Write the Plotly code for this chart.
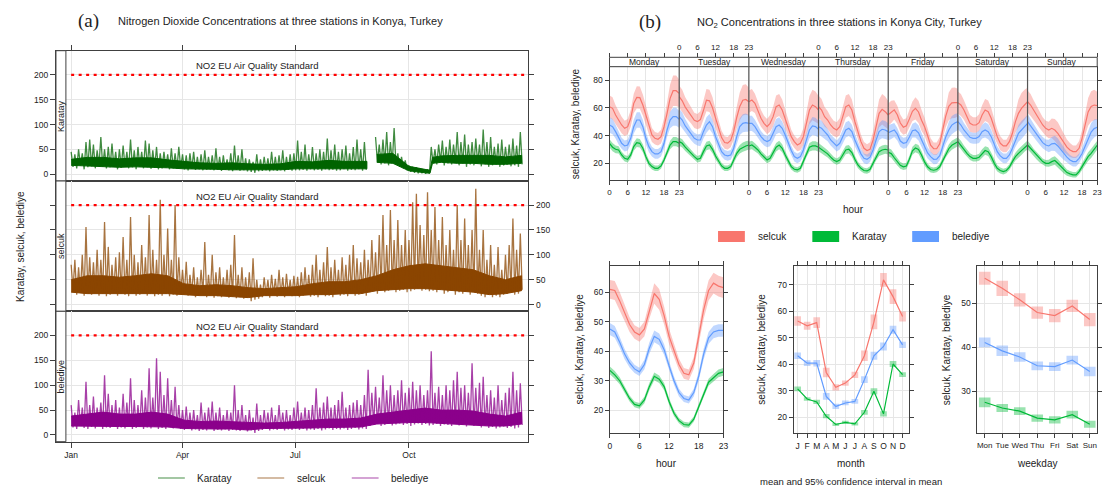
import plotly.graph_objects as go
import pandas as pd

W, H = 1105, 486
def fx(x): return x / W
def fy(y): return 1 - y / H

FONT = "Liberation Sans, Arial, Helvetica, sans-serif"
SERIF = "Liberation Serif, Times New Roman, serif"
TXT = "#222222"
AX = "#404040"
GRID = "#e6e6e6"

# ------------------------------------------------------------------ data
# (a) time series, 3-day buckets: high and low reading per bucket
karatay_hi = [45, 40, 50, 42, 65, 70, 60, 48, 75, 50,
              55, 62, 45, 50, 58, 45, 70, 48, 55, 45,
              68, 62, 48, 55, 42, 45, 40, 52, 42, 55,
              40, 38, 42, 45, 35, 40, 48, 35, 38, 52,
              35, 38, 30, 42, 58, 38, 50, 32, 30, 25,
              40, 30, 35, 32, 45, 35, 38, 48, 35, 40,
              42, 68, 45, 60, 40, 55, 42, 50, 45, 72,
              48, 60, 45, 50, 58, 42, 55, 70, 50, 65,
              None, None, 75, 60, 70, 85, 65, 93, 42, 35,
              28, 18, 15, 14, 12, 10, 10, 55, 50, 60,
              68, 55, 70, 60, 85, 65, 80, 60, 65, 72,
              60, 90, 65, 75, 55, 62, 70, 55, 60, 72,
              58, 85]
karatay_lo = [15, 12, 18, 10, 14, 16, 12, 18, 15, 12,
              14, 16, 10, 13, 15, 12, 14, 10, 15, 12,
              14, 11, 13, 10, 12, 14, 10, 12, 11, 13,
              10, 8, 11, 9, 10, 8, 9, 10, 8, 9,
              7, 9, 8, 6, 9, 7, 8, 6, 5, 3,
              6, 7, 8, 6, 8, 7, 8, 6, 9, 7,
              8, 8, 9, 7, 10, 8, 9, 7, 10, 8,
              9, 7, 8, 10, 7, 9, 8, 10, 7, 9,
              None, None, 25, 20, 22, 18, 22, 20, 15, 12,
              8, 5, 3, 2, 2, 1, 2, 22, 20, 25,
              18, 22, 20, 25, 18, 22, 15, 20, 18, 22,
              16, 20, 15, 18, 20, 15, 18, 20, 16, 18,
              15, 20]
selcuk_hi = [80, 90, 75, 100, 156, 95, 85, 110, 90, 166,
             116, 80, 95, 105, 136, 90, 176, 100, 85, 120,
             95, 180, 110, 90, 211, 100, 153, 90, 200, 95,
             70, 86, 60, 75, 55, 70, 126, 60, 100, 65,
             75, 55, 70, 80, 140, 60, 75, 55, 65, 93,
             50, 40, 55, 50, 60, 52, 70, 55, 62, 50,
             58, 56, 65, 75, 60, 80, 100, 70, 85, 116,
             75, 90, 70, 95, 80, 100, 120, 93, 85, 110,
             90, 130, 105, 140, 180, 120, 190, 130, 170, 120,
             150, 130, 206, 223, 160, 140, 226, 150, 196, 130,
             176, 120, 150, 110, 200, 130, 173, 120, 150, 233,
             110, 150, 90, 120, 80, 116, 70, 100, 120, 173,
             110, 143]
selcuk_lo = [30, 20, 25, 18, 22, 20, 25, 18, 22, 17,
             20, 25, 18, 22, 20, 17, 22, 18, 20, 25,
             18, 22, 17, 20, 18, 22, 17, 20, 18, 22,
             20, 18, 22, 15, 18, 20, 15, 18, 14, 17,
             15, 18, 14, 16, 13, 15, 12, 14, 7, 10,
             12, 15, 18, 14, 20, 16, 18, 15, 20, 17,
             18, 15, 18, 20, 16, 18, 15, 20, 17, 18,
             15, 22, 18, 20, 17, 22, 18, 20, 22, 18,
             25, 28, 22, 30, 25, 28, 30, 25, 28, 30,
             25, 27, 30, 32, 28, 30, 27, 28, 25, 30,
             22, 25, 28, 20, 25, 22, 28, 20, 25, 22,
             18, 15, 20, 15, 18, 15, 20, 22, 25, 20,
             22, 30]
belediye_hi = [60, 45, 70, 55, 107, 60, 77, 55, 65, 120,
               83, 60, 70, 55, 83, 65, 114, 70, 60, 90,
               75, 134, 75, 154, 127, 80, 114, 70, 97, 60,
               50, 57, 45, 50, 40, 65, 45, 55, 67, 45,
               55, 40, 50, 45, 100, 50, 60, 40, 50, 35,
               63, 40, 50, 45, 55, 40, 60, 45, 50, 40,
               55, 67, 45, 55, 50, 60, 94, 55, 65, 77,
               55, 60, 70, 87, 55, 60, 65, 70, 60, 80,
               131, 85, 97, 75, 120, 90, 100, 80, 90, 110,
               85, 95, 107, 90, 100, 80, 90, 168, 85, 97,
               80, 100, 90, 110, 127, 95, 100, 85, 144, 95,
               105, 117, 80, 90, 75, 100, 70, 85, 95, 127,
               90, 104]
belediye_lo = [15, 12, 18, 14, 12, 16, 13, 18, 12, 15,
               14, 17, 12, 15, 13, 18, 12, 14, 16, 12,
               15, 13, 17, 12, 14, 12, 16, 13, 15, 12,
               10, 12, 9, 11, 8, 10, 9, 12, 8, 10,
               9, 11, 8, 10, 9, 8, 10, 7, 9, 4,
               8, 10, 12, 9, 11, 10, 12, 9, 11, 10,
               12, 10, 12, 9, 11, 10, 12, 9, 11, 13,
               10, 12, 11, 13, 10, 12, 14, 11, 13, 12,
               18, 20, 22, 18, 20, 22, 19, 21, 23, 20,
               22, 18, 21, 23, 20, 22, 19, 20, 22, 18,
               21, 20, 18, 22, 19, 20, 17, 21, 18, 20,
               15, 18, 14, 16, 13, 15, 17, 14, 16, 13,
               15, 20]

# dense core of each series (day of year, lower / upper edge of the solid band)
core_days = [0, 13, 26, 39, 52, 65, 78, 91, 104, 117, 130, 143, 156, 169, 182,
             195, 208, 221, 234, 247, 260, 273, 286, 299, 312, 325, 338, 351, 364]
karatay_core_days = [0, 13, 26, 39, 52, 65, 78, 91, 104, 117, 130, 143, 156, 169, 182,
                     195, 208, 221, 234, 239, 243, 247, 260, 273, 286, 290, 292, 299, 312,
                     325, 338, 351, 364]
karatay_core_hi = [30, 34, 34, 31, 33, 33, 29, 26, 23, 22, 23, 21, 20, 21, 26,
                   25, 28, 26, 26, 26, None, 40, 42, 16, 9, 8, 34, 37, 38,
                   38, 38, 35, 38]
karatay_core_lo = [18, 16, 15, 14, 15, 14, 13, 11, 10, 10, 9, 8, 9, 9, 11,
                   11, 11, 11, 11, 11, None, 24, 22, 7, 3, 2, 22, 24, 22,
                   22, 20, 20, 22]
selcuk_core_hi = [50, 58, 58, 55, 58, 62, 58, 42, 38, 40, 38, 34, 32, 34, 36,
                  42, 46, 46, 50, 58, 70, 78, 82, 78, 74, 70, 58, 50, 58]
selcuk_core_lo = [25, 22, 22, 22, 22, 22, 22, 20, 18, 18, 16, 14, 18, 18, 18,
                  20, 20, 22, 22, 28, 30, 32, 32, 30, 28, 25, 20, 22, 28]
belediye_core_hi = [38, 42, 46, 42, 42, 46, 42, 30, 27, 28, 27, 25, 24, 25, 27,
                    30, 32, 32, 34, 42, 46, 50, 54, 50, 50, 48, 42, 38, 46]
belediye_core_lo = [18, 18, 17, 17, 17, 17, 16, 13, 12, 12, 12, 10, 13, 13, 14,
                    14, 15, 16, 16, 22, 24, 25, 25, 24, 22, 20, 18, 18, 22]

month_ticks = ["2018-01-01", "2018-04-01", "2018-07-01", "2018-10-01"]
month_tick_text = ["Jan", "Apr", "Jul", "Oct"]
eu_standard = 200

# (b) weekday x hour means
day_names = ["Monday", "Tuesday", "Wednesday", "Thursday", "Friday", "Saturday", "Sunday"]
selcuk_week = [
    [60.8, 59.6, 54.8, 51.2, 47.6, 45.2, 46.4, 52.4, 63.2, 67.5, 67.3, 62.0, 54.8, 46.4, 40.4, 38.0, 37.3, 39.2, 46.4, 56.0, 66.8, 72.3, 72.3, 70.4],
    [68.0, 65.0, 60.5, 57.5, 54.5, 51.0, 50.0, 51.5, 58.0, 65.5, 65.0, 60.0, 52.5, 45.0, 38.5, 35.0, 34.5, 36.5, 43.0, 53.0, 61.0, 65.5, 66.0, 64.4],
    [64.4, 65.6, 63.2, 57.2, 52.4, 48.8, 46.4, 48.8, 53.6, 60.8, 62.0, 58.4, 52.4, 45.2, 39.2, 35.6, 33.2, 34.4, 39.2, 48.8, 58.4, 62.0, 60.8, 58.4],
    [60.8, 58.4, 53.6, 51.2, 47.6, 45.2, 44.0, 46.4, 53.6, 60.8, 62.0, 58.4, 50.0, 42.8, 35.6, 30.8, 29.2, 30.1, 36.8, 46.4, 56.0, 58.9, 57.2, 54.8],
    [55.0, 57.0, 58.5, 55.0, 49.0, 46.0, 47.0, 52.0, 57.5, 59.6, 57.0, 51.0, 46.4, 40.0, 33.0, 30.5, 30.5, 34.0, 44.0, 54.0, 61.0, 63.5, 63.7, 63.7],
    [63.7, 62.0, 58.4, 53.6, 48.8, 47.6, 47.6, 49.3, 54.8, 58.4, 57.2, 52.4, 45.2, 39.2, 34.4, 32.5, 32.5, 35.6, 41.6, 50.0, 56.0, 59.6, 62.0, 64.4],
    [64.4, 62.0, 58.4, 54.8, 51.2, 47.6, 45.2, 44.0, 45.2, 44.0, 41.6, 38.0, 34.4, 31.6, 29.6, 28.4, 28.4, 30.8, 38.0, 48.0, 57.0, 61.0, 62.0, 61.5],
]
belediye_week = [
    [47.6, 46.4, 42.8, 38.0, 34.4, 32.5, 33.2, 38.0, 46.4, 51.2, 51.2, 46.4, 38.0, 32.0, 28.4, 26.8, 26.8, 28.4, 34.4, 44.0, 51.2, 53.6, 53.6, 51.7],
    [53.6, 51.2, 46.9, 44.0, 40.4, 38.0, 36.8, 36.8, 42.8, 47.6, 50.0, 46.4, 39.2, 33.2, 28.4, 26.0, 25.3, 26.0, 30.8, 39.2, 46.4, 48.8, 49.3, 48.8],
    [48.8, 48.8, 46.4, 42.8, 39.2, 36.8, 35.6, 36.8, 41.1, 46.4, 47.6, 45.2, 40.4, 34.4, 29.2, 24.8, 23.6, 24.8, 29.6, 36.8, 44.0, 46.9, 46.4, 44.5],
    [46.4, 45.2, 42.8, 40.4, 36.8, 34.4, 32.5, 34.4, 39.2, 44.0, 45.2, 42.8, 36.8, 31.6, 26.8, 23.6, 22.9, 24.4, 29.6, 36.8, 42.8, 44.5, 44.0, 42.8],
    [42.0, 43.0, 44.0, 41.0, 36.0, 34.4, 35.0, 39.0, 43.5, 44.0, 42.0, 37.0, 32.0, 27.5, 24.8, 22.9, 23.0, 25.5, 32.0, 39.0, 44.0, 47.5, 49.0, 50.0],
    [50.0, 47.6, 44.0, 41.1, 38.7, 38.0, 38.0, 39.2, 42.8, 44.0, 42.8, 39.2, 33.2, 28.4, 25.3, 23.6, 23.6, 26.0, 30.8, 36.8, 41.6, 44.0, 46.4, 48.8],
    [50.0, 46.9, 43.5, 40.4, 37.3, 34.9, 33.2, 32.5, 34.0, 34.4, 32.5, 29.6, 26.8, 24.4, 22.4, 21.2, 21.2, 23.6, 27.0, 32.0, 38.0, 42.5, 45.0, 46.0],
]
karatay_week = [
    [34.4, 31.6, 30.1, 29.6, 26.0, 23.6, 22.9, 26.0, 32.0, 34.9, 34.4, 30.8, 24.8, 20.0, 17.6, 16.4, 16.4, 18.1, 22.4, 28.4, 33.2, 35.6, 35.6, 34.4],
    [35.6, 34.4, 31.6, 29.2, 26.8, 24.8, 22.9, 23.6, 28.4, 32.5, 33.2, 30.1, 25.3, 21.2, 18.1, 16.4, 16.4, 17.6, 22.4, 27.2, 30.1, 31.6, 32.5, 33.2],
    [32.5, 33.2, 31.6, 29.6, 26.8, 24.4, 22.4, 23.6, 27.2, 31.6, 33.2, 30.8, 26.0, 21.2, 17.6, 15.7, 15.2, 16.4, 21.2, 27.2, 31.6, 32.5, 32.5, 31.6],
    [31.6, 30.1, 28.4, 26.8, 24.4, 22.4, 21.2, 22.4, 26.0, 29.6, 30.1, 27.7, 22.9, 18.8, 16.4, 14.8, 14.5, 15.7, 20.0, 24.8, 28.4, 29.6, 30.1, 29.6],
    [28.0, 27.0, 24.0, 21.0, 18.5, 17.5, 18.0, 23.0, 29.0, 31.0, 30.0, 26.0, 21.0, 17.5, 15.5, 15.0, 15.5, 17.5, 22.0, 27.0, 30.5, 33.0, 34.5, 35.5],
    [35.6, 33.2, 30.1, 27.2, 24.8, 23.6, 23.6, 24.4, 27.2, 29.2, 28.4, 24.8, 20.0, 16.4, 14.8, 14.0, 14.8, 17.2, 21.2, 24.8, 27.2, 29.2, 31.6, 33.2],
    [33.2, 30.8, 27.7, 25.3, 22.9, 21.2, 20.0, 20.0, 21.2, 22.0, 20.0, 17.6, 15.2, 13.3, 12.4, 11.7, 11.7, 14.0, 17.6, 21.2, 24.8, 27.2, 30.0, 33.0],
]
# 95% CI half-widths by hour for the weekday-hour panel
selcuk_ci_top = [8, 8, 7, 6.5, 6, 5.5, 5.5, 6, 7, 8, 8, 7.5, 6.5, 5.5, 5, 4.5, 4.5, 5, 6, 8, 10, 11, 11, 10]
belediye_ci_top = [5.5, 5.5, 5, 4.5, 4, 4, 4, 4.5, 5, 5.5, 5.5, 5, 4.5, 4, 3.5, 3.5, 3.5, 3.5, 4, 5, 6, 6.5, 6.5, 6]
karatay_ci_top = [3, 3, 2.8, 2.6, 2.4, 2.3, 2.3, 2.5, 2.9, 3.1, 3.1, 2.9, 2.6, 2.3, 2.1, 2, 2, 2.1, 2.4, 2.8, 3.1, 3.3, 3.3, 3.2]

# hour of day
hours = list(range(24))
selcuk_hour = [60.9, 60.5, 57.0, 53.0, 49.0, 46.5, 45.5, 47.5, 54.0, 59.5, 57.5, 52.0, 45.0, 40.0, 35.5, 32.5, 32.0, 36.0, 45.0, 54.0, 60.5, 63.0, 62.0, 61.5]
belediye_hour = [47.5, 46.5, 43.0, 39.0, 36.0, 34.0, 33.0, 35.5, 41.0, 45.0, 44.0, 40.5, 35.0, 30.0, 26.0, 24.0, 23.5, 26.0, 31.5, 39.0, 44.5, 46.5, 47.0, 47.0]
karatay_hour = [33.5, 32.0, 30.0, 27.0, 24.0, 22.0, 21.5, 23.5, 28.0, 31.5, 30.5, 28.0, 23.0, 19.0, 16.5, 15.2, 15.0, 17.0, 21.0, 25.5, 29.5, 31.0, 32.5, 33.0]
selcuk_ci_hour = [3.2, 3.2, 3.0, 2.8, 2.5, 2.3, 2.3, 2.5, 3.0, 3.5, 3.5, 3.0, 2.6, 2.2, 1.9, 1.8, 1.8, 2.0, 2.6, 3.1, 3.4, 3.5, 3.5, 3.5]
belediye_ci_hour = [2.0, 2.0, 1.8, 1.7, 1.5, 1.4, 1.4, 1.6, 1.9, 2.0, 2.0, 1.8, 1.6, 1.4, 1.3, 1.2, 1.2, 1.3, 1.5, 1.8, 2.0, 2.1, 2.1, 2.1]
karatay_ci_hour = [1.3, 1.3, 1.2, 1.1, 1.0, 1.0, 1.0, 1.1, 1.2, 1.3, 1.3, 1.2, 1.1, 1.0, 0.9, 0.9, 0.9, 0.9, 1.0, 1.1, 1.2, 1.3, 1.3, 1.3]

# month
months = list(range(1, 13))
month_labels = ["J", "F", "M", "A", "M", "J", "J", "A", "S", "O", "N", "D"]
selcuk_month = [56.3, 54.5, 55.7, 36.9, 31.3, 32.9, 36.0, 43.2, 56.0, 71.8, 65.5, 58.0]
belediye_month = [43.2, 40.4, 40.4, 27.9, 24.1, 25.4, 26.0, 34.2, 43.2, 46.7, 53.0, 47.3]
karatay_month = [30.7, 26.9, 25.8, 20.4, 17.3, 18.1, 17.5, 21.9, 29.8, 21.3, 40.1, 36.1]
selcuk_ci_month = [1.8, 1.5, 2.0, 1.8, 1.2, 1.0, 1.2, 2.0, 2.8, 2.6, 2.8, 1.9]
belediye_ci_month = [1.2, 1.1, 1.2, 1.3, 1.0, 0.9, 0.9, 1.3, 1.5, 1.5, 1.5, 1.2]
karatay_ci_month = [0.9, 0.7, 0.8, 0.8, 0.6, 0.6, 0.6, 0.9, 1.2, 1.0, 1.1, 0.9]

# weekday
weekdays = list(range(1, 8))
weekday_labels = ["Mon", "Tue", "Wed", "Thu", "Fri", "Sat", "Sun"]
selcuk_wday = [55.7, 53.4, 50.8, 47.9, 47.2, 49.4, 46.3]
belediye_wday = [41.1, 39.2, 37.8, 35.8, 35.6, 37.1, 34.5]
karatay_wday = [27.5, 26.2, 25.5, 23.9, 23.5, 24.7, 22.5]
selcuk_ci_wday = [1.5, 1.75, 1.5, 1.4, 1.5, 1.4, 1.5]
belediye_ci_wday = [1.1, 1.2, 1.1, 1.0, 1.0, 1.0, 1.1]
karatay_ci_wday = [1.1, 0.9, 0.9, 0.8, 0.8, 0.9, 0.8]

# ------------------------------------------------------------------ styles
RED, GREEN, BLUE = "#F8766D", "#00BA38", "#619CFF"
RED_A, GREEN_A, BLUE_A = "rgba(248,118,109,0.4)", "rgba(0,186,56,0.4)", "rgba(97,156,255,0.4)"
COL_K, COL_S, COL_B = "#006400", "#8B4500", "#8B008B"
SPK_K, SPK_S, SPK_B = "rgba(0,100,0,0.75)", "rgba(139,69,0,0.75)", "rgba(139,0,139,0.75)"

fig = go.Figure()
ann = []

# ------------------------------------------------------------------ (a)
base = pd.Timestamp("2018-01-01")
def day(d):
    return base + pd.Timedelta(days=d)

def zigzag(hi, lo):
    xs, ys = [], []
    for i, (h, l) in enumerate(zip(hi, lo)):
        xs += [day(3 * i), day(3 * i + 1.5)]
        ys += [h, l]
    return xs, ys

def core_polys(days, hi, lo):
    segs, cur = [], []
    for d, h, l in zip(days, hi, lo):
        if h is None:
            if cur:
                segs.append(cur)
            cur = []
        else:
            cur.append((d, h, l))
    if cur:
        segs.append(cur)
    xs, ys = [], []
    for s in segs:
        xs += [day(d) for d, _, _ in s] + [day(d) for d, _, _ in s[::-1]] + [None]
        ys += [h for _, h, _ in s] + [l for _, _, l in s[::-1]] + [None]
    return xs, ys

x_r0 = day(-12.28).strftime("%Y-%m-%d %H:%M:%S")
x_r1 = day(369.4).strftime("%Y-%m-%d %H:%M:%S")

panels = [(karatay_hi, karatay_lo, karatay_core_days, karatay_core_hi, karatay_core_lo, COL_K, SPK_K),
          (selcuk_hi, selcuk_lo, core_days, selcuk_core_hi, selcuk_core_lo, COL_S, SPK_S),
          (belediye_hi, belediye_lo, core_days, belediye_core_hi, belediye_core_lo, COL_B, SPK_B)]
for k, (hi, lo, cd, chi, clo, col, spk) in enumerate(panels):
    sfx = "" if k == 0 else str(k + 1)
    cx, cy = core_polys(cd, chi, clo)
    fig.add_trace(go.Scatter(x=cx, y=cy, mode="lines", fill="toself", fillcolor=col,
                             line=dict(color=col, width=1), xaxis="x" + sfx, yaxis="y" + sfx,
                             hoverinfo="skip"))
    xs, ys = zigzag(hi, lo)
    fig.add_trace(go.Scatter(x=xs, y=ys, mode="lines", line=dict(color=spk, width=1.3),
                             connectgaps=False, xaxis="x" + sfx, yaxis="y" + sfx, hoverinfo="skip"))
    fig.add_trace(go.Scatter(x=[base, x_r1], y=[eu_standard, eu_standard], mode="lines",
                             line=dict(color="#ff0000", width=2.2, dash="3px,4.5px"),
                             xaxis="x" + sfx, yaxis="y" + sfx, hoverinfo="skip"))
    ann.append(dict(x=day(151).strftime("%Y-%m-%d"), y=218, xref="x" + sfx, yref="y" + sfx,
                    text="NO2 EU Air Quality Standard", showarrow=False,
                    font=dict(size=9.5, color=TXT, family=FONT)))

# ------------------------------------------------------------------ (b) top
for vals, ci, band, col in [(selcuk_week, selcuk_ci_top, RED_A, RED),
                            (karatay_week, karatay_ci_top, GREEN_A, GREEN),
                            (belediye_week, belediye_ci_top, BLUE_A, BLUE)]:
    for d in range(7):
        xs = [23 * d + h for h in hours]
        up = [v + c for v, c in zip(vals[d], ci)]
        dn = [v - c for v, c in zip(vals[d], ci)]
        fig.add_trace(go.Scatter(x=xs + xs[::-1], y=up + dn[::-1], fill="toself", fillcolor=band,
                                 line=dict(width=0), mode="lines", xaxis="x4", yaxis="y4", hoverinfo="skip"))
for vals, col in [(selcuk_week, RED), (karatay_week, GREEN), (belediye_week, BLUE)]:
    for d in range(7):
        xs = [23 * d + h for h in hours]
        fig.add_trace(go.Scatter(x=xs, y=vals[d], mode="lines", line=dict(color=col, width=1.2),
                                 xaxis="x4", yaxis="y4", hoverinfo="skip"))
fig.add_trace(go.Scatter(x=[0, 161], y=[None, None], mode="lines", xaxis="x5", yaxis="y4",
                         hoverinfo="skip"))

# ------------------------------------------------------------------ (b) hour
for vals, ci, band, col in [(selcuk_hour, selcuk_ci_hour, RED_A, RED),
                            (karatay_hour, karatay_ci_hour, GREEN_A, GREEN),
                            (belediye_hour, belediye_ci_hour, BLUE_A, BLUE)]:
    up = [v + c for v, c in zip(vals, ci)]
    dn = [v - c for v, c in zip(vals, ci)]
    fig.add_trace(go.Scatter(x=hours + hours[::-1], y=up + dn[::-1], fill="toself", fillcolor=band,
                             line=dict(width=0), mode="lines", xaxis="x6", yaxis="y6", hoverinfo="skip"))
    fig.add_trace(go.Scatter(x=hours, y=vals, mode="lines", line=dict(color=col, width=1.2),
                             xaxis="x6", yaxis="y6", hoverinfo="skip"))

# ------------------------------------------------------------------ (b) month & weekday
for xv, groups, ax, w in [
        (months, [(selcuk_month, selcuk_ci_month, RED_A, RED),
                  (karatay_month, karatay_ci_month, GREEN_A, GREEN),
                  (belediye_month, belediye_ci_month, BLUE_A, BLUE)], "7", 0.7),
        (weekdays, [(selcuk_wday, selcuk_ci_wday, RED_A, RED),
                    (karatay_wday, karatay_ci_wday, GREEN_A, GREEN),
                    (belediye_wday, belediye_ci_wday, BLUE_A, BLUE)], "8", 0.66)]:
    for vals, ci, band, col in groups:
        fig.add_trace(go.Bar(x=xv, y=[2 * c for c in ci], base=[v - c for v, c in zip(vals, ci)],
                             width=w, marker=dict(color=band, line=dict(width=0)),
                             xaxis="x" + ax, yaxis="y" + ax, hoverinfo="skip"))
    for vals, ci, band, col in groups:
        fig.add_trace(go.Scatter(x=xv, y=vals, mode="lines", line=dict(color=col, width=1.2),
                                 xaxis="x" + ax, yaxis="y" + ax, hoverinfo="skip"))

# ------------------------------------------------------------------ axes
TICKF = dict(size=8.5, color=TXT, family=FONT)
def axis(**kw):
    d = dict(showline=True, linecolor=AX, linewidth=1, ticks="outside", ticklen=4,
             tickcolor=AX, tickwidth=1, showgrid=True, gridcolor=GRID, gridwidth=1,
             zeroline=False, tickfont=TICKF, fixedrange=True, tickangle=0)
    d.update(kw)
    return d

LX = [fx(54.3), fx(529.6)]
lay = dict(
    xaxis=axis(domain=LX, anchor="y", type="date", range=[x_r0, x_r1], tickvals=month_ticks,
               ticktext=month_tick_text, side="top", showticklabels=False, mirror=True, ticklen=5),
    xaxis2=axis(domain=LX, anchor="y2", type="date", range=[x_r0, x_r1], tickvals=month_ticks,
                ticktext=month_tick_text, ticks="", showticklabels=False, mirror=True),
    xaxis3=axis(domain=LX, anchor="y3", type="date", range=[x_r0, x_r1], tickvals=month_ticks,
                ticktext=month_tick_text, mirror=True, ticklen=5),
    yaxis=axis(domain=[fy(181), fy(50.7)], anchor="x", range=[-13.5, 248.5],
               tickvals=[0, 50, 100, 150, 200], mirror="ticks", ticklen=5),
    yaxis2=axis(domain=[fy(311.3), fy(181)], anchor="x2", range=[-13.5, 248.5],
                tickvals=[0, 50, 100, 150, 200], mirror="ticks", side="right", ticklen=5),
    yaxis3=axis(domain=[fy(441.7), fy(311.3)], anchor="x3", range=[-13.5, 248.5],
                tickvals=[0, 50, 100, 150, 200], mirror="ticks", ticklen=5),
)

lab_bot, lab_top = {}, {}
for d in range(7):
    for h in [0, 6, 12, 18, 23]:
        p = 23 * d + h
        if d % 2 == 0:
            lab_bot[p] = str(h)
            lab_top.setdefault(p, "")
        else:
            lab_top[p] = str(h)
            lab_bot.setdefault(p, "")
bv = sorted(lab_bot)
tv = sorted(lab_top)
TX = [fx(611.4), fx(1102.2)]
SMALL = dict(size=8, color=TXT, family=FONT)
lay.update(
    xaxis4=axis(domain=TX, anchor="y4", range=[0, 161], tickvals=bv, ticktext=[lab_bot[p] for p in bv],
                mirror=True, tickfont=SMALL),
    xaxis5=axis(overlaying="x4", anchor="free", position=fy(57.3), side="top", range=[0, 161],
                tickvals=tv, ticktext=[lab_top[p] for p in tv], showgrid=False, showline=False,
                tickfont=SMALL),
    yaxis4=axis(domain=[fy(180.3), fy(66.7)], anchor="x4", range=[7.75, 89.6],
                tickvals=[20, 40, 60, 80], mirror="ticks"),
)
BY = [fy(433.3), fy(265.7)]
lay.update(
    xaxis6=axis(domain=[fx(611.7), fx(726)], anchor="y6", range=[0, 23], tickvals=[0, 6, 12, 18, 23], mirror="ticks"),
    yaxis6=axis(domain=BY, anchor="x6", range=[12.22, 68.9], tickvals=[20, 30, 40, 50, 60], mirror="ticks"),
    xaxis7=axis(domain=[fx(796.7), fx(912.3)], anchor="y7", range=[0.583, 12.625], tickvals=months,
                ticktext=month_labels, mirror="ticks"),
    yaxis7=axis(domain=BY, anchor="x7", range=[13.97, 77.16], tickvals=[20, 30, 40, 50, 60, 70], mirror="ticks"),
    xaxis8=axis(domain=[fx(981.7), fx(1102)], anchor="y8", range=[0.586, 7.414], tickvals=weekdays,
                ticktext=weekday_labels, mirror="ticks", tickfont=SMALL),
    yaxis8=axis(domain=BY, anchor="x8", range=[20.45, 58.55], tickvals=[30, 40, 50], mirror="ticks"),
)

# ------------------------------------------------------------------ shapes
shapes = []
for (y0, y1) in [(50.7, 181), (181, 311.3), (311.3, 441.7)]:
    shapes.append(dict(type="rect", xref="paper", yref="paper", x0=fx(54.3), x1=fx(64.3),
                       y0=fy(y1), y1=fy(y0), fillcolor="white", line=dict(color=AX, width=1), layer="above"))
shapes.append(dict(type="rect", xref="paper", yref="paper", x0=TX[0], x1=TX[1], y0=fy(66.7), y1=fy(57.3),
                   fillcolor="white", line=dict(color=AX, width=1), layer="above"))
for d in range(1, 7):
    shapes.append(dict(type="line", xref="x4", yref="paper", x0=23 * d, x1=23 * d, y0=fy(180.3), y1=fy(57.3),
                       line=dict(color="#555555", width=1.2), layer="above"))
for x0, col in [(157, "rgba(0,100,0,0.6)"), (257, "rgba(139,69,0,0.6)"), (352, "rgba(139,0,139,0.6)")]:
    shapes.append(dict(type="line", xref="paper", yref="paper", x0=fx(x0), x1=fx(x0 + 27),
                       y0=fy(478), y1=fy(478), line=dict(color=col, width=1.2)))
for x0, col in [(720.6, RED), (815.5, GREEN), (916, BLUE)]:
    shapes.append(dict(type="rect", xref="paper", yref="paper", x0=fx(x0), x1=fx(x0 + 27),
                       y0=fy(242), y1=fy(231), fillcolor=col, line=dict(width=0)))

def txt(x, y, s, size=10, angle=0, xanchor="center", family=FONT):
    ann.append(dict(x=fx(x), y=fy(y), xref="paper", yref="paper", text=s, showarrow=False,
                    textangle=angle, xanchor=xanchor, yanchor="middle",
                    font=dict(size=size, color=TXT, family=family)))

txt(87.5, 21, "(a)", size=19, family=SERIF)
txt(115, 21, "Nitrogen Dioxide Concentrations at three stations in Konya, Turkey", size=11, xanchor="left")
txt(652, 22, "(b)", size=19, family=SERIF)
txt(697, 23, "NO<sub>2</sub> Concentrations in three stations in Konya City, Turkey", size=11, xanchor="left")
txt(18, 246, "Karatay, selcuk, belediye", size=10, angle=-90)
txt(59.3, 116, "Karatay", size=9, angle=-90)
txt(59.3, 246, "selcuk", size=9, angle=-90)
txt(59.3, 376.5, "belediye", size=9, angle=-90)
txt(194.6, 478, "Karatay", size=10, xanchor="left")
txt(295, 478, "selcuk", size=10, xanchor="left")
txt(389, 478, "belediye", size=10, xanchor="left")
for d, name in enumerate(day_names):
    ann.append(dict(x=23 * d + 11.5, y=fy(62), xref="x4", yref="paper", text=name, showarrow=False,
                    yanchor="middle", font=dict(size=8.5, color=TXT, family=FONT)))
txt(578, 124, "selcuk, Karatay, belediye", size=10, angle=-90)
txt(856.8, 210, "hour", size=10)
txt(759, 237, "selcuk", size=10, xanchor="left")
txt(853.7, 237, "Karatay", size=10, xanchor="left")
txt(954, 237, "belediye", size=10, xanchor="left")
for xc in [580.7, 764, 950.7]:
    txt(xc, 349.5, "selcuk, Karatay, belediye", size=10, angle=-90)
txt(669, 463, "hour", size=10)
txt(854.5, 463, "month", size=10)
txt(1041.9, 463, "weekday", size=10)
txt(854.5, 481.7, "mean and 95% confidence interval in mean", size=9.5)

fig.update_layout(width=W, height=H, margin=dict(l=0, r=0, t=0, b=0, pad=0),
                  paper_bgcolor="white", plot_bgcolor="white", showlegend=False,
                  barmode="overlay", font=dict(family=FONT, size=9, color=TXT),
                  shapes=shapes, annotations=ann, **lay)

fig.write_html("out.html", config={"displayModeBar": False, "staticPlot": True},
               post_script="document.body.style.margin='0';document.body.style.overflow='hidden';")
